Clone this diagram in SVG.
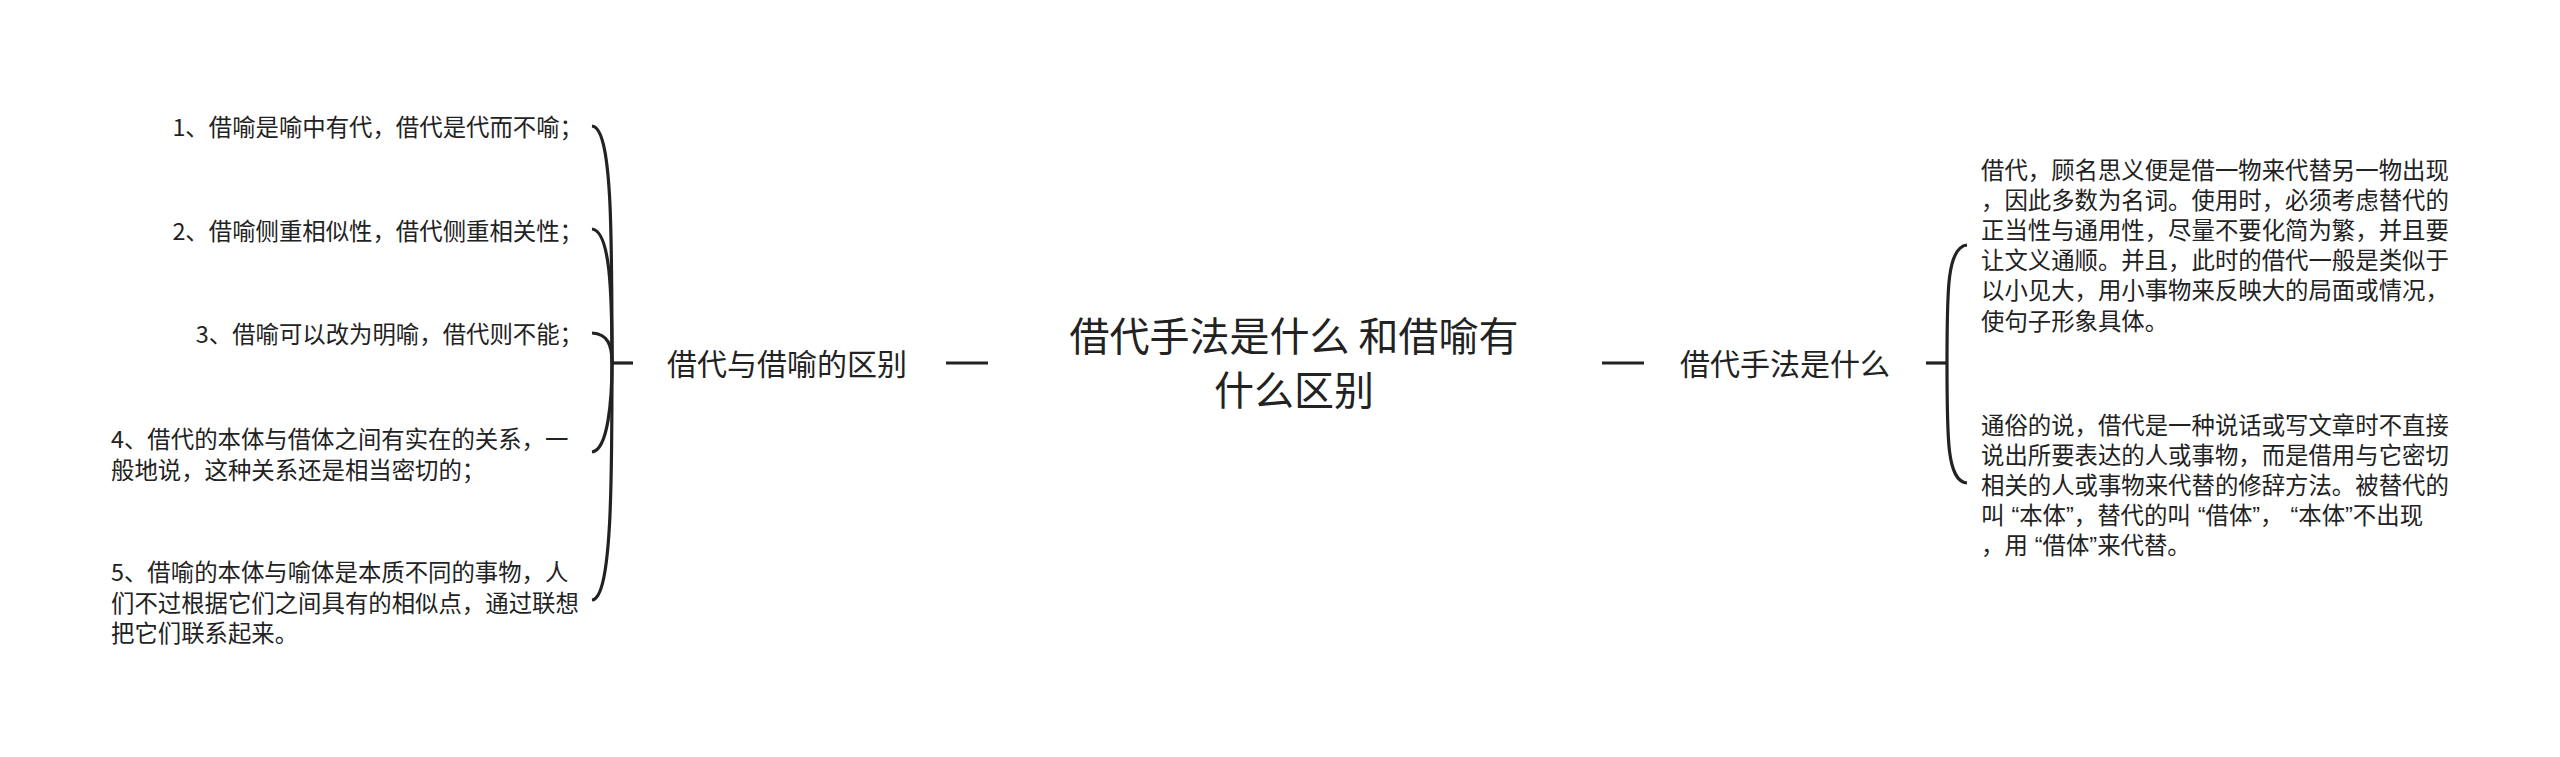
<svg xmlns="http://www.w3.org/2000/svg" width="2560" height="757" viewBox="0 0 2560 757">
<style>
text{font-family:"Noto Sans CJK SC","Noto Sans",sans-serif;fill:#222}
.title{font-size:40px;text-anchor:middle}
.branch{font-size:30px;text-anchor:middle}
.leaf{font-size:23.4px}
.end{text-anchor:end}
.q{font-family:"Liberation Sans",sans-serif}
.conn path,.conn line{fill:none;stroke:#222;stroke-width:3.2;stroke-linecap:butt}
</style>
<rect width="2560" height="757" fill="#fff"/>
<g class="conn" id="connectors">
<line x1="946" y1="363" x2="988" y2="363"/>
<line x1="1602" y1="363" x2="1644" y2="363"/>
<line x1="612" y1="363" x2="633" y2="363"/>
<path d="M612,363 C612,230 612,128 592,126"/>
<path d="M612,363 C612,290 610,231 592,229"/>
<path d="M612,363 C612,345 608,334 592,333"/>
<path d="M612,363 C612,400 608,450 592,452"/>
<path d="M612,363 C612,480 612,598 592,600"/>
<line x1="1926" y1="363" x2="1947" y2="363"/>
<path d="M1947,363 C1947,290 1947,247 1967,245"/>
<path d="M1947,363 C1947,440 1947,481 1967,483"/>
</g>
<g id="center">
<text class="title" x="1294" y="351">借代手法是什么 和借喻有</text>
<text class="title" x="1294" y="405">什么区别</text>
</g>
<g id="branch-left">
<text class="branch" x="787" y="375">借代与借喻的区别</text>
</g>
<g id="branch-right">
<text class="branch" x="1785" y="375">借代手法是什么</text>
</g>
<g id="leaf-l1"><text class="leaf end" x="583" y="136">1、借喻是喻中有代，借代是代而不喻；</text></g>
<g id="leaf-l2"><text class="leaf end" x="583" y="240">2、借喻侧重相似性，借代侧重相关性；</text></g>
<g id="leaf-l3"><text class="leaf end" x="583" y="343">3、借喻可以改为明喻，借代则不能；</text></g>
<g id="leaf-l4">
<text class="leaf" x="111" y="448">4、借代的本体与借体之间有实在的关系，一</text>
<text class="leaf" x="111" y="479">般地说，这种关系还是相当密切的；</text>
</g>
<g id="leaf-l5">
<text class="leaf" x="111" y="581">5、借喻的本体与喻体是本质不同的事物，人</text>
<text class="leaf" x="111" y="612">们不过根据它们之间具有的相似点，通过联想</text>
<text class="leaf" x="111" y="642">把它们联系起来。</text>
</g>
<g id="leaf-r1">
<text class="leaf" x="1981" y="179">借代，顾名思义便是借一物来代替另一物出现</text>
<text class="leaf" x="1981" y="209">，因此多数为名词。使用时，必须考虑替代的</text>
<text class="leaf" x="1981" y="239">正当性与通用性，尽量不要化简为繁，并且要</text>
<text class="leaf" x="1981" y="269">让文义通顺。并且，此时的借代一般是类似于</text>
<text class="leaf" x="1981" y="299">以小见大，用小事物来反映大的局面或情况，</text>
<text class="leaf" x="1981" y="330">使句子形象具体。</text>
</g>
<g id="leaf-r2">
<text class="leaf" x="1981" y="434">通俗的说，借代是一种说话或写文章时不直接</text>
<text class="leaf" x="1981" y="464">说出所要表达的人或事物，而是借用与它密切</text>
<text class="leaf" x="1981" y="494">相关的人或事物来代替的修辞方法。被替代的</text>
<text class="leaf" x="1981" y="524">叫<tspan class="q" dx="7">“</tspan>本体<tspan class="q">”</tspan>，替代的叫<tspan class="q" dx="7">“</tspan>借体<tspan class="q">”</tspan>，<tspan class="q" dx="7">“</tspan>本体<tspan class="q">”</tspan>不出现</text>
<text class="leaf" x="1981" y="554">，用<tspan class="q" dx="7">“</tspan>借体<tspan class="q">”</tspan>来代替。</text>
</g>
</svg>
